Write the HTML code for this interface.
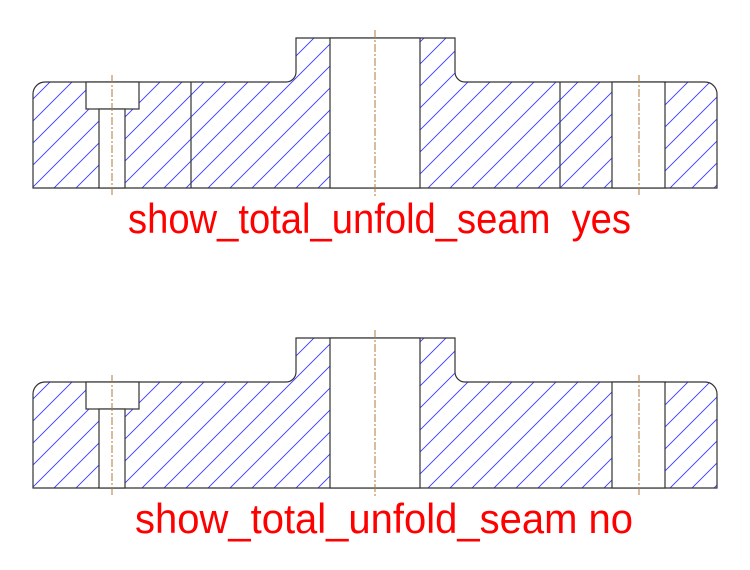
<!DOCTYPE html>
<html><head><style>html,body{margin:0;padding:0;background:#fff}svg{display:block}</style></head>
<body>
<svg width="750" height="570" viewBox="0 0 750 570" xmlns="http://www.w3.org/2000/svg">
<defs>
<pattern id="h" patternUnits="userSpaceOnUse" width="22" height="22">
<path d="M-2,24 L24,-2 M-13,13 L13,-13 M9,35 L35,9" stroke="#3a3aff" stroke-width="0.9"/>
</pattern>
<g id="part">
<path d="M33,188 L33,94 A12,12 0 0 1 45,82 L286,82 A10,10 0 0 0 296,72 L296,38 L455,38 L455,72 A10,10 0 0 0 465,82 L705,82 A12,12 0 0 1 717,94 L717,188 Z" fill="url(#h)" stroke="#333" stroke-width="1.2"/>
<rect x="330" y="38" width="90" height="150" fill="#fff" stroke="#333" stroke-width="1.2"/>
<rect x="86" y="82" width="53" height="27" fill="#fff" stroke="#333" stroke-width="1.2"/>
<rect x="99" y="109" width="26" height="79" fill="#fff" stroke="#333" stroke-width="1.2"/>
<rect x="612" y="82" width="53" height="106" fill="#fff" stroke="#333" stroke-width="1.2"/>
<g stroke="#b07840" stroke-width="1" stroke-dasharray="8,2,2,2">
<line x1="112" y1="75" x2="112" y2="196"/>
<line x1="375" y1="30" x2="375" y2="196"/>
<line x1="639" y1="75" x2="639" y2="196"/>
</g>
</g>
</defs>
<use href="#part"/>
<line x1="191" y1="82" x2="191" y2="188" stroke="#333" stroke-width="1.2"/>
<line x1="560" y1="82" x2="560" y2="188" stroke="#333" stroke-width="1.2"/>
<use href="#part" transform="translate(0,300)"/>
<text x="128" y="233" font-family="Liberation Sans, sans-serif" font-size="42" fill="#f00" textLength="503" lengthAdjust="spacingAndGlyphs">show_total_unfold_seam&#160;&#160;yes</text>
<text x="135" y="533" font-family="Liberation Sans, sans-serif" font-size="42" fill="#f00" textLength="498" lengthAdjust="spacingAndGlyphs">show_total_unfold_seam no</text>
</svg>
</body></html>
